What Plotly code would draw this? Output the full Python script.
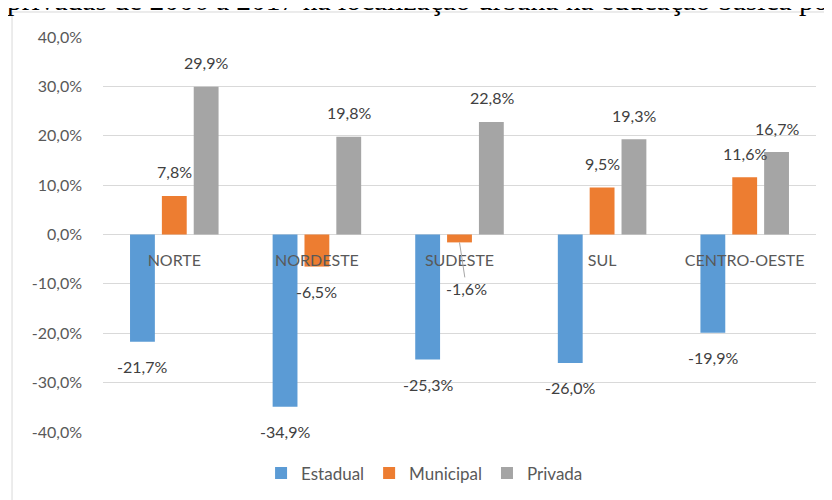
import plotly.graph_objects as go

categories = ["NORTE", "NORDESTE", "SUDESTE", "SUL", "CENTRO-OESTE"]
estadual = [-21.7, -34.9, -25.3, -26.0, -19.9]
municipal = [7.8, -6.5, -1.6, 9.5, 11.6]
privada = [29.9, 19.8, 22.8, 19.3, 16.7]
series_names = ["Estadual", "Municipal", "Privada"]
tick_vals = [40, 30, 20, 10, 0, -10, -20, -30, -40]
title_text = "privadas de 2006 a 2017 na localização urbana na educação básica por"

colors = ["#5B9BD5", "#ED7D31", "#A5A5A5"]
FONT = "Lato"


def fmt(v):
    return ("%.1f" % v).replace(".", ",") + "%"


fig = go.Figure()
series = [estadual, municipal, privada]
for name, vals, col in zip(series_names, series, colors):
    fig.add_trace(go.Bar(x=categories, y=vals, name=name, marker=dict(color=col, line=dict(width=0))))

offsets = [-32, 0, 32]
for si, vals in enumerate(series):
    for cat, v in zip(categories, vals):
        ann = dict(x=cat, y=v, xref="x", yref="y", text=fmt(v), showarrow=False,
                   xshift=offsets[si], yshift=24 if v >= 0 else -25,
                   font=dict(family=FONT, size=16, color="#404040"))
        if si == 1 and abs(v) < 3:
            ann.update(showarrow=True, arrowhead=0, arrowwidth=1, arrowcolor="#A6A6A6",
                       ax=7, ay=46, yshift=0, xshift=0, standoff=0)
        fig.add_annotation(**ann)

# clipped title line above the chart
fig.add_annotation(x=-0.138, y=1.0, xref="paper", yref="paper", xanchor="left", yanchor="bottom",
                   yshift=19, text=title_text, showarrow=False,
                   font=dict(family="Liberation Serif", size=29.5, color="#000000"))

# chart border (left and top)
fig.add_shape(type="path", xref="paper", yref="paper",
              path="M -0.1276,-0.3 L -0.1276,1.0633 L 1.1,1.0633",
              line=dict(color="#D9D9D9", width=1))

fig.update_layout(
    width=824, height=492,
    margin=dict(l=95, r=16, t=29, b=68, autoexpand=False),
    paper_bgcolor="white", plot_bgcolor="white",
    separators=", ",
    barmode="group", bargap=0.33, bargroupgap=0.22,
    font=dict(family=FONT, size=16, color="#595959"),
    showlegend=True,
    legend=dict(orientation="h", x=0.451, xanchor="center", y=-0.105, yanchor="middle",
                font=dict(family=FONT, size=17, color="#595959"), itemwidth=30,
                traceorder="normal"),
    xaxis=dict(type="category", anchor="free", position=0.5, showgrid=False, showline=False,
               ticks="", ticklabelstandoff=14, tickfont=dict(family=FONT, size=16, color="#595959")),
    yaxis=dict(range=[-40, 40], tickvals=tick_vals, ticktext=[fmt(v) for v in tick_vals],
               showgrid=True, gridcolor="#D9D9D9", gridwidth=1.3,
               zeroline=True, zerolinecolor="#D9D9D9", zerolinewidth=1.3,
               showline=False, ticks="", ticklabelstandoff=20,
               tickfont=dict(family=FONT, size=16, color="#595959")),
)

fig.write_html("out.html")
